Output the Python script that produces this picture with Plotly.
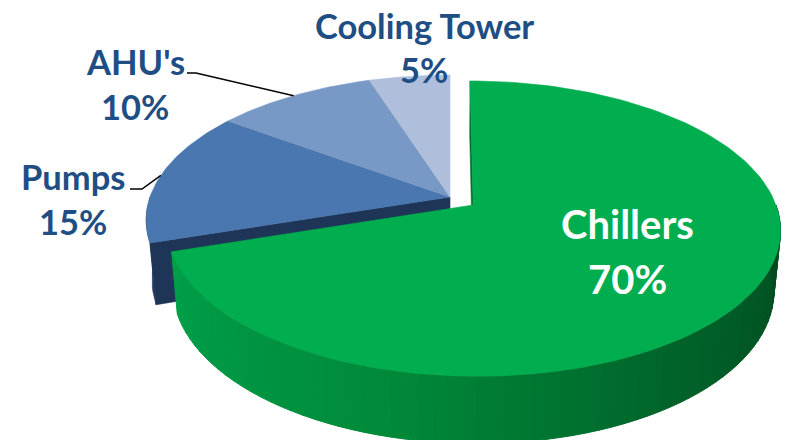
import numpy as np
import plotly.graph_objects as go

# ---------------- data ----------------
categories = ["Chillers", "Pumps", "AHU's", "Cooling Tower"]
values = [70, 15, 10, 5]          # percent
exploded = [True, False, False, False]

# ---------------- styles ----------------
top_colors = ["#00AD4F", "#4A77AF", "#7898C6", "#AFBFDB"]
blue_wall = "#1F3557"
green_wall_stops = [(0.0, (0, 160, 72)), (0.35, (0, 138, 58)), (0.65, (0, 100, 42)), (1.0, (0, 72, 30))]
label_color = "#1F4E85"
FONT = "Lato"

# projection / geometry settings
ELEV = np.arcsin(0.471)
DIST = 5.56
FOC = 1668.0
HEIGHT = 0.23
EXPLODE = 0.095
OX, OY = 450.0, 197.0
W, Hpx = 787, 440

S, C = np.sin(ELEV), np.cos(ELEV)


def proj(X, Y, Z):
    X = np.asarray(X, float)
    Y = np.asarray(Y, float)
    Z = np.asarray(Z, float)
    vy = Y - DIST * S
    vz = Z + DIST * C
    yc = vy * C + vz * S
    zc = -vy * S + vz * C
    return OX + FOC * X / zc, OY - FOC * yc / zc


def lerp_color(stops, u):
    for (u0, c0), (u1, c1) in zip(stops[:-1], stops[1:]):
        if u0 <= u <= u1:
            k = (u - u0) / (u1 - u0) if u1 > u0 else 0
            c = [int(round(a + (b - a) * k)) for a, b in zip(c0, c1)]
            return "rgb(%d,%d,%d)" % tuple(c)
    return "rgb(%d,%d,%d)" % stops[-1][1]


fig = go.Figure()


def poly(xs, ys, color, lw=0.6):
    xs = [float(v) for v in xs]
    ys = [float(v) for v in ys]
    fig.add_trace(go.Scatter(x=xs + [xs[0]], y=ys + [ys[0]], mode="lines",
                             fill="toself", fillcolor=color,
                             line=dict(color=color, width=lw),
                             hoverinfo="skip", showlegend=False))


# slice angles (start at 12 o'clock, clockwise)
total = float(sum(values))
bounds = []
ang = 90.0
for v in values:
    a0 = ang
    a1 = ang - 360.0 * v / total
    bounds.append((a0, a1))
    ang = a1

offsets = []
for (a0, a1), ex in zip(bounds, exploded):
    mid = np.radians((a0 + a1) / 2)
    if ex:
        offsets.append((EXPLODE * np.cos(mid), EXPLODE * np.sin(mid)))
    else:
        offsets.append((0.0, 0.0))


def rim(i, t_deg, y=0.0):
    dx, dz = offsets[i]
    t = np.radians(t_deg)
    return proj(dx + np.cos(t), y, dz + np.sin(t))


def center(i, y=0.0):
    dx, dz = offsets[i]
    return proj(dx, y, dz)


# ---- blue group (non-exploded) walls ----
blue_idx = [i for i in range(len(values)) if not exploded[i]]
i_first = blue_idx[0]                 # slice right after the exploded one (Pumps)
edge = bounds[i_first][0]             # its start angle (198 deg, front-left)
cx0, cy0 = center(i_first)
cxb, cyb = center(i_first, -HEIGHT)
rx0, ry0 = rim(i_first, edge)
rxb, ryb = rim(i_first, edge, -HEIGHT)
poly([cx0, rx0, rxb, cxb], [cy0, ry0, ryb, cyb], blue_wall)
# outer wall from left silhouette to the edge
ts = np.linspace(-180, edge, 12)
tx, ty = rim(i_first, ts)
bx, by = rim(i_first, ts, -HEIGHT)
poly(list(tx) + list(bx[::-1]), list(ty) + list(by[::-1]), blue_wall)

# ---- blue group top faces ----
for i in blue_idx:
    a0, a1 = bounds[i]
    ts = np.linspace(a0, a1, 60)
    xs, ys = rim(i, ts)
    c0x, c0y = center(i)
    poly([c0x] + list(xs), [c0y] + list(ys), top_colors[i])

# ---- exploded slice (Chillers) ----
for i in range(len(values)):
    if not exploded[i]:
        continue
    a0, a1 = bounds[i]   # 90 -> -162
    c0x, c0y = center(i)
    cbx, cby = center(i, -HEIGHT)
    r0x, r0y = rim(i, a0)
    rbx, rby = rim(i, a0, -HEIGHT)
    poly([c0x, r0x, rbx, cbx], [c0y, r0y, rby, cby], "#00702E")
    # outer wall, front part: from a1 (-162) to 0
    n = 70
    ts = np.linspace(a1, 0.0, n + 1)
    for k in range(n):
        t1, t2 = ts[k], ts[k + 1]
        x1, y1 = rim(i, t1)
        x2, y2 = rim(i, t2)
        x3, y3 = rim(i, t2, -HEIGHT)
        x4, y4 = rim(i, t1, -HEIGHT)
        col = lerp_color(green_wall_stops, k / (n - 1))
        poly([x1, x2, x3, x4], [y1, y2, y3, y4], col, lw=1.0)
    # top face
    ts = np.linspace(a0, a1, 150)
    xs, ys = rim(i, ts)
    poly([c0x] + list(xs), [c0y] + list(ys), top_colors[i])

# ---------------- labels ----------------
label_pos = {
    "Chillers": dict(x=627, y1=224, y2=279, color="white", size=40),
    "Pumps": dict(x=73, y1=176, y2=221, color=label_color, size=34.5),
    "AHU's": dict(x=135, y1=61, y2=106, color=label_color, size=34.5),
    "Cooling Tower": dict(x=424, y1=25, y2=69, color=label_color, size=34.5),
}
leaders = {
    "Pumps": [(130, 189), (142, 189)],
    "AHU's": [(187, 73), (196, 73)],
}
annotations = []
for i, (cat, v) in enumerate(zip(categories, values)):
    p = label_pos[cat]
    for txt, yy in ((cat, p["y1"]), ("%d%%" % v, p["y2"])):
        annotations.append(dict(x=p["x"], y=yy, xref="x", yref="y", text="<b>%s</b>" % txt,
                                showarrow=False, xanchor="center", yanchor="middle",
                                font=dict(family=FONT, size=p["size"], color=p["color"])))
    if cat in leaders:
        a0, a1 = bounds[i]
        mx, my = rim(i, (a0 + a1) / 2)
        pts = leaders[cat] + [(float(mx), float(my))]
        fig.add_trace(go.Scatter(x=[q[0] for q in pts], y=[q[1] for q in pts], mode="lines",
                                 line=dict(color="black", width=1.5), hoverinfo="skip", showlegend=False))

fig.update_layout(
    width=W, height=Hpx,
    margin=dict(l=0, r=0, t=0, b=0),
    paper_bgcolor="white", plot_bgcolor="white",
    xaxis=dict(range=[0, W], visible=False, fixedrange=True),
    yaxis=dict(range=[Hpx, 0], visible=False, fixedrange=True),
    annotations=annotations,
    showlegend=False,
)

fig.write_html("out.html")
